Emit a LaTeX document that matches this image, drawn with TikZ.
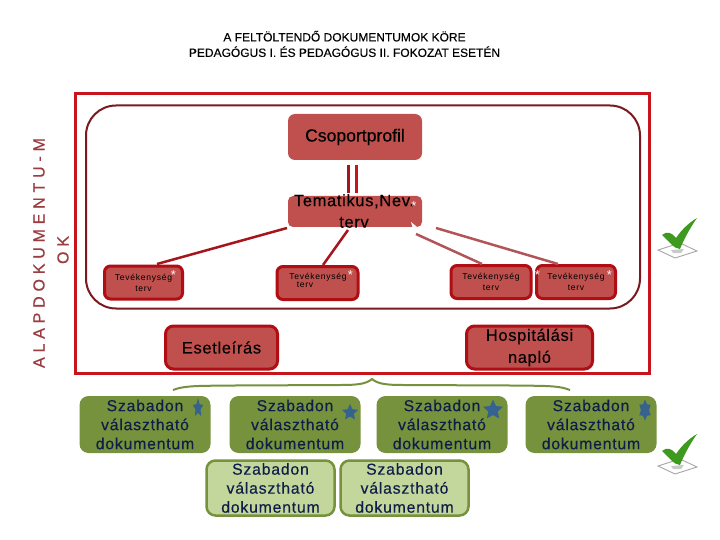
\documentclass[tikz,border=0pt]{standalone}
\usepackage{fontspec}
\setmainfont{Liberation Sans}
\newfontfamily\spaced[LetterSpace=30,FakeBold=0.6]{Liberation Sans}
\newfontfamily\titlef[FakeBold=0.25]{Liberation Sans}
\newfontfamily\bigf[FakeBold=0.2]{Liberation Sans}
\newfontfamily\bigs[LetterSpace=4,FakeBold=0.2]{Liberation Sans}
\newfontfamily\spacedb[LetterSpace=5,FakeBold=0.3]{Liberation Sans}
\newfontfamily\spacedc[LetterSpace=8]{Liberation Sans}
\usetikzlibrary{shapes.geometric,decorations.pathreplacing}
\definecolor{boxred}{HTML}{C0504D}
\definecolor{edgered}{HTML}{B00D14}
\definecolor{frameRed}{HTML}{C8141C}
\definecolor{innerRed}{HTML}{7A1A20}
\definecolor{lineRed}{HTML}{A6141C}
\definecolor{softRed}{HTML}{B2555A}
\definecolor{oliveg}{HTML}{76923C}
\definecolor{paleg}{HTML}{C3D69B}
\definecolor{navytxt}{HTML}{0F1D4A}
\definecolor{starblue}{HTML}{35628F}
\definecolor{sidetxt}{HTML}{9A3C40}
\definecolor{checkg}{HTML}{3E9A1E}
\tikzset{
  x=1pt,y=-1pt,
  plainbox/.style={rectangle,rounded corners=7pt,fill=boxred,inner sep=0pt,align=center},
  tevbox/.style={rectangle,rounded corners=6pt,fill=boxred,draw=edgered,line width=3pt,inner sep=0pt,align=center,
     font=\spacedc\fontsize{8.6}{11}\selectfont},
  bigbox/.style={rectangle,rounded corners=8pt,fill=boxred,draw=edgered,line width=3pt,inner sep=0pt,align=center,
     font=\bigs\fontsize{16.5}{22}\selectfont},
  gbox/.style={rectangle,rounded corners=9pt,fill=oliveg,text=navytxt,inner sep=0pt,align=center,
     minimum width=131pt,minimum height=57pt,font=\spacedb\fontsize{15.8}{19}\selectfont},
  lbox/.style={gbox,fill=paleg,draw=oliveg,line width=2.5pt,minimum width=128pt,minimum height=55pt},
  astnode/.style={text=white!88!pink,inner sep=0pt,font=\fontsize{13}{13}\selectfont},
  bstar/.style={star,star points=5,star point ratio=2.1,fill=starblue,inner sep=0pt},
  link/.style={lineRed,line width=2.5pt},
  softlink/.style={softRed,line width=2.5pt},
}
\newcommand{\checkmk}[2]{%
  \fill[white,draw=gray!70,line width=.9pt,shift={(#1,#2)}] (-4,7) -- (18,0) -- (35,8) -- (13,15) -- cycle;
  \fill[black!35,opacity=.6,shift={(#1,#2)}] (9,7) -- (22,6) -- (19,10) -- (11,10) -- cycle;
  \fill[checkg,shift={(#1,#2)}] (0,-8) .. controls (5,-12) and (9,-11) .. (14,-5)
     .. controls (20,-14) and (28,-21) .. (35,-25)
     .. controls (28,-15) and (22,-4) .. (18,6) .. controls (12,6) and (7,-2) .. (0,-8) -- cycle;
}
\begin{document}
\begin{tikzpicture}
\useasboundingbox (0,0) rectangle (720,540);
\fill[white] (0,0) rectangle (720,540);
% title
\node[inner sep=0pt,align=center,font=\titlef\fontsize{12}{15.5}\selectfont] (title) at (344.5,44)
  {A FELTÖLTENDŐ DOKUMENTUMOK KÖRE\\PEDAGÓGUS I. ÉS PEDAGÓGUS II. FOKOZAT ESETÉN};
% side label
\node[rotate=90,inner sep=0pt,text=sidetxt,font=\spaced\fontsize{16}{16}\selectfont] (sideA) at (39,253) {ALAPDOKUMENTU-M};
\node[rotate=90,inner sep=0pt,text=sidetxt,font=\spaced\fontsize{16}{16}\selectfont] (sideB) at (63,250) {OK};
% frames
\node[rectangle,draw=frameRed,line width=3pt,minimum width=574pt,minimum height=280pt,inner sep=0pt] (frame) at (362,233.5) {};
\node[rectangle,rounded corners=30pt,draw=innerRed,line width=2pt,minimum width=554pt,minimum height=203pt,inner sep=0pt] (inner) at (363,207) {};
% main boxes
\node[plainbox,minimum width=134pt,minimum height=46pt,font=\bigf\fontsize{17.6}{17.6}\selectfont] (csop) at (355,137) {Csoportprofil};
\node[plainbox,rounded corners=5pt,minimum width=134pt,minimum height=31pt] (tema) at (355,211.5) {};
\node[inner sep=0pt,align=center,font=\bigs\fontsize{16.5}{21.5}\selectfont] (tematxt) at (354,211) {Tematikus,Nev.\\terv};
% double link
\coordinate (d1a) at (348,165); \coordinate (d1b) at (348,193);
\coordinate (d2a) at (356,165); \coordinate (d2b) at (356,193);
\draw[lineRed,line width=3pt] (d1a) -- (d1b);
\draw[frameRed,line width=3pt] (d2a) -- (d2b);
% tev boxes
\node[tevbox,minimum width=78pt,minimum height=33pt] (t1) at (143.5,282.5) {Tevékenység\\terv};
\node[tevbox,minimum width=81pt,minimum height=33pt] (t2) at (317.5,283) {};
\node[inner sep=0pt,align=center,font=\spacedc\fontsize{8.6}{8}\selectfont] (t2txt) at (318,280.5) {Tevékenység\\\hspace*{-26pt}terv};
\node[tevbox,minimum width=80pt,minimum height=33pt] (t3) at (491,282) {Tevékenység\\terv};
\node[tevbox,minimum width=79pt,minimum height=33pt] (t4) at (576,282) {Tevékenység\\terv};
% links
\coordinate (l1a) at (287,228); \coordinate (l1b) at (157,264);
\coordinate (l2a) at (348,230); \coordinate (l2b) at (323,265);
\coordinate (l3a) at (416,234); \coordinate (l3b) at (482,264);
\coordinate (l4a) at (436,228); \coordinate (l4b) at (558,264);
\draw[link] (l1a) -- (l1b);
\draw[link] (l2a) -- (l2b);
\draw[softlink] (l3a) -- (l3b);
\draw[softlink] (l4a) -- (l4b);
% asterisks
\node[astnode] (a1) at (173.5,275) {*};
\node[astnode] (a2) at (350.5,275) {*};
\node[astnode] (a3) at (537.5,275) {*};
\node[astnode] (a4) at (609.5,275) {*};
\node[astnode] (a5) at (414,206) {*};
\node[astnode,font=\fontsize{14}{14}\selectfont] (a6) at (583,336) {*};
\fill[white] (411,222) -- (417,227) -- (413,229) -- cycle;
% big boxes
\node[bigbox,minimum width=112pt,minimum height=43pt] (ese) at (221.5,347.5) {Esetleírás};
\node[bigbox,minimum width=126pt,minimum height=43pt] (hos) at (529.5,347.5) {Hospitálási\\napló};
% brace
\draw[oliveg,line width=2pt] (173,390) .. controls (185,385) and (205,386) .. (235,385.5)
  -- (340,385) .. controls (358,385) and (366,384) .. (372,379)
  .. controls (378,384) and (386,385) .. (404,385) -- (510,385.5)
  .. controls (540,386) and (558,385) .. (570,390);
% green boxes
\node[gbox] (g1) at (145,424.5) {Szabadon\\választható\\dokumentum};
\node[gbox] (g2) at (295,424.5) {Szabadon\\választható\\dokumentum};
\node[gbox] (g3) at (442,424.5) {Szabadon\\választható\\dokumentum};
\node[gbox] (g4) at (591,424.5) {Szabadon\\választható\\dokumentum};
\node[lbox] (g5) at (270.5,488) {Szabadon\\választható\\dokumentum};
\node[lbox] (g6) at (404.5,488) {Szabadon\\választható\\dokumentum};
% stars
\node[bstar,minimum size=20pt,xscale=.55] (s1) at (198,408) {};
\node[bstar,minimum size=17pt] (s2) at (350,412.5) {};
\node[bstar,minimum size=21pt] (s3) at (493,410) {};
\node[bstar,star points=6,star point ratio=1.6,minimum size=21pt,xscale=.62] (s4) at (645,410) {};
% checks
\checkmk{662}{243}
\checkmk{662}{459}
\end{tikzpicture}
\end{document}
